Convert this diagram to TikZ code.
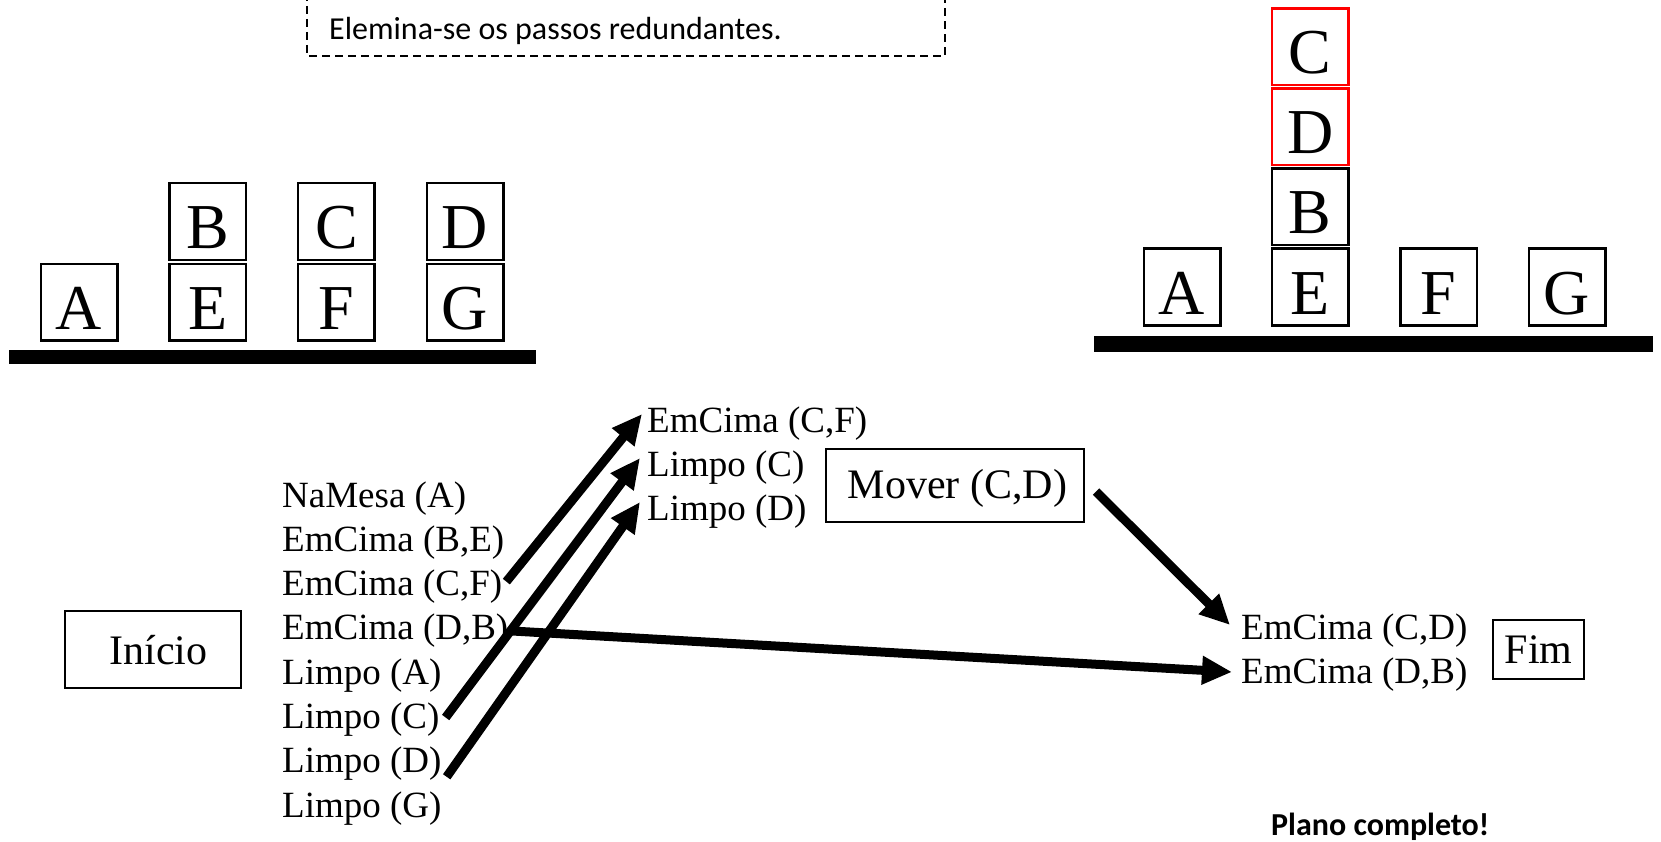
\documentclass[tikz,border=0pt]{standalone}
\usepackage{fontspec}
\setmainfont{Liberation Serif}
\newfontfamily\calib{Carlito}
\usetikzlibrary{arrows.meta}
\begin{document}
\begin{tikzpicture}[x=1pt,y=-1pt,
  blk/.style={draw,line width=2.5pt,minimum width=76.5pt,minimum height=76.5pt,inner sep=0pt,text height=54pt,text depth=0pt,font=\fontsize{64}{64}\selectfont},
  redblk/.style={blk,draw=red},
  bar/.style={fill=black},
  lst/.style={anchor=base west,inner sep=0pt,font=\fontsize{37}{44}\selectfont},
  lbl/.style={draw,line width=2pt,inner sep=0pt,font=\fontsize{42}{48}\selectfont,text depth=0pt},
  arr/.style={line width=9pt,-{Triangle[length=30pt,width=27pt]}},
  note/.style={anchor=base west,inner sep=0pt,font=\calib\fontsize{32}{36}\selectfont}
]
\useasboundingbox (0,0) rectangle (1661,842);

% note box
\draw[line width=1.5pt,dash pattern=on 8pt off 5pt] (307,-20) rectangle (945,56);
\node[note] (nt) at (329,40) {Elemina-se os passos redundantes.};

% left initial state
\node[blk] (bA) at (79,302) {A};
\node[blk] (bB) at (207.7,221.5) {B};
\node[blk] (bE) at (207.7,302) {E};
\node[blk] (bC) at (336.4,221.5) {C};
\node[blk] (bF) at (336.4,302) {F};
\node[blk] (bD) at (465.1,221.5) {D};
\node[blk] (bG) at (465.1,302) {G};
\fill[bar] (8.5,350) rectangle (536,364);

% right goal state
\node[blk] (gA) at (1182,287) {A};
\node[blk] (gE) at (1310.3,287) {E};
\node[blk] (gB) at (1310.3,207) {B};
\node[redblk] (gD) at (1310.3,127) {D};
\node[redblk] (gC) at (1310.3,47) {C};
\node[blk] (gF) at (1438.6,287) {F};
\node[blk] (gG) at (1567,287) {G};
\fill[bar] (1094,336) rectangle (1653,352);

% boxes
\node[lbl,minimum width=176pt,minimum height=77pt,text height=29pt] (ini) at (153,649.5) {\hspace*{11pt}Início};
\node[lbl,minimum width=258pt,minimum height=73pt,text height=25pt] (mover) at (955,485.5) {\hspace*{5pt}Mover (C,D)};
\node[lbl,minimum width=91pt,minimum height=59pt,text height=27pt] (fim) at (1538.5,649.5) {Fim};

% left list
\node[lst] (l1) at (282,507) {NaMesa (A)};
\node[lst] (l2) at (282,551.3) {EmCima (B,E)};
\node[lst] (l3) at (282,595.6) {EmCima (C,F)};
\node[lst] (l4) at (282,639.9) {EmCima (D,B)};
\node[lst] (l5) at (282,684.2) {Limpo (A)};
\node[lst] (l6) at (282,728.5) {Limpo (C)};
\node[lst] (l7) at (282,772.8) {Limpo (D)};
\node[lst] (l8) at (282,817.1) {Limpo (G)};

% middle list
\node[lst] (m1) at (647,432) {EmCima (C,F)};
\node[lst] (m2) at (647,476) {Limpo (C)};
\node[lst] (m3) at (647,520) {Limpo (D)};

% right list
\node[lst] (r1) at (1241,639) {EmCima (C,D)};
\node[lst] (r2) at (1241,683) {EmCima (D,B)};

% arrows
\draw[arr] ([xshift=4pt,yshift=14pt]l3.base east) -- ([xshift=-5pt,yshift=18pt]m1.base west);
\draw[arr] ([xshift=6pt,yshift=11pt]l6.base east) -- ([xshift=-7pt,yshift=18pt]m2.base west);
\draw[arr] ([xshift=5pt,yshift=-4pt]l7.base east) -- ([xshift=-7pt,yshift=18pt]m3.base west);
\draw[arr] ([xshift=2pt,yshift=9pt]l4.base east) -- ([xshift=-9pt,yshift=11pt]r2.base west);
\draw[arr] ([xshift=11pt,yshift=-6pt]mover.east) -- ([xshift=-11pt,yshift=14pt]r1.base west);

\node[anchor=base west,inner sep=0pt,font=\calib\bfseries\fontsize{32}{36}\selectfont] (pc) at (1271,835) {Plano completo!};
\end{tikzpicture}
\end{document}
